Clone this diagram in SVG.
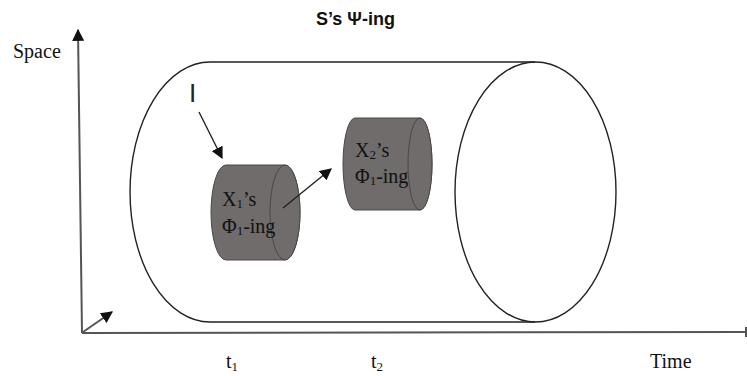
<svg xmlns="http://www.w3.org/2000/svg" width="747" height="376" viewBox="0 0 747 376">
<defs>
<style>
.t{font-family:"Liberation Serif","Times New Roman",serif;font-size:20px;fill:#111}
.sub{font-size:13px}
.ax{stroke:#555;stroke-width:2;fill:none}
.ln{stroke:#222;stroke-width:1.4;fill:none}
.cyl{fill:#706c6b;stroke:#4a4747;stroke-width:1}
</style>
<marker id="ah2" viewBox="0 0 10 10" refX="9" refY="5" markerWidth="12" markerHeight="12" orient="auto" markerUnits="userSpaceOnUse">
<path d="M0,0 L10,5 L0,10 z" fill="#111"/>
</marker>
</defs>
<rect width="747" height="376" fill="#fff"/>
<text x="316" y="25" font-family="Liberation Sans,Arial,sans-serif" font-weight="bold" font-size="18" fill="#111">S’s Ψ-ing</text>
<g id="axes">
<line x1="82" y1="333" x2="78" y2="30" class="ax" style="marker-end:url(#ah2)"/>
<line x1="82" y1="333" x2="746" y2="332" class="ax"/>
<line x1="746" y1="327" x2="746" y2="337" class="ax"/>
<line x1="83" y1="332" x2="112" y2="312" class="ax" style="marker-end:url(#ah2)"/>
<text x="13" y="58" class="t">Space</text>
<text x="650" y="368" class="t">Time</text>
<text x="226" y="368" class="t">t<tspan class="sub" dy="3">1</tspan></text>
<text x="371" y="368" class="t">t<tspan class="sub" dy="3">2</tspan></text>
</g>
<g id="big-cylinder">
<path d="M535,62 L210,62 A80,130 0 0 0 210,322 L535,322" class="ln"/>
<ellipse cx="535.5" cy="192" rx="80.5" ry="130" class="ln"/>
</g>
<g id="x1">
<path d="M226,165 L285,165 A15,47.5 0 0 1 285,260 L226,260 A15,47.5 0 0 1 226,165 z" class="cyl"/>
<ellipse cx="285" cy="212.5" rx="15" ry="47.5" class="cyl"/>
<text x="222" y="206" class="t">X<tspan class="sub" dy="2">1</tspan><tspan dy="-2">’s</tspan></text>
<text x="222" y="233" class="t">Φ<tspan class="sub" dy="2">1</tspan><tspan dy="-2">-ing</tspan></text>
</g>
<g id="x2">
<path d="M355,118 L420,118 A12,46 0 0 1 420,210 L355,210 A12,46 0 0 1 355,118 z" class="cyl"/>
<ellipse cx="420" cy="164" rx="12" ry="46" class="cyl"/>
<text x="355" y="157" class="t">X<tspan class="sub" dy="2">2</tspan><tspan dy="-2">’s</tspan></text>
<text x="355" y="183" class="t">Φ<tspan class="sub" dy="2">1</tspan><tspan dy="-2">-ing</tspan></text>
</g>
<g id="I-label">
<text x="189" y="102" font-family="Liberation Sans,Arial,sans-serif" font-size="26" fill="#222">I</text>
</g>
<g id="connectors">
<line x1="199" y1="112" x2="222" y2="158" stroke="#222" stroke-width="1.4" marker-end="url(#ah2)"/>
<line x1="283" y1="208" x2="331" y2="169" stroke="#222" stroke-width="1.4" marker-end="url(#ah2)"/>
</g>
</svg>
